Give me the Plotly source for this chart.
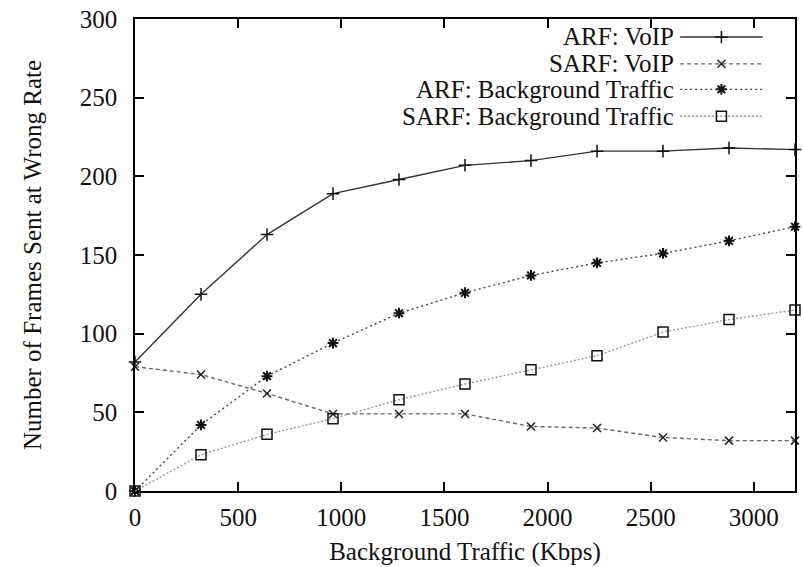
import plotly.graph_objects as go

x_kbps = [0, 320, 640, 960, 1280, 1600, 1920, 2240, 2560, 2880, 3200]
arf_voip = [82, 125, 163, 189, 198, 207, 210, 216, 216, 218, 217]
sarf_voip = [79, 74, 62, 49, 49, 49, 41, 40, 34, 32, 32]
arf_bg = [0, 42, 73, 94, 113, 126, 137, 145, 151, 159, 168]
sarf_bg = [0, 23, 36, 46, 58, 68, 77, 86, 101, 109, 115]

names = ["ARF: VoIP", "SARF: VoIP", "ARF: Background Traffic", "SARF: Background Traffic"]
series = [arf_voip, sarf_voip, arf_bg, sarf_bg]
styles = [
    dict(line=dict(color="#333333", width=1.4, dash="solid"),
         marker=dict(symbol="cross-thin-open", size=9, color="#111111", line=dict(width=1.5, color="#111111"))),
    dict(line=dict(color="#666666", width=1.4, dash="4px,3px"),
         marker=dict(symbol="x-thin-open", size=8, color="#222222", line=dict(width=1.5, color="#222222"))),
    dict(line=dict(color="#444444", width=1.4, dash="2px,3px"),
         marker=dict(symbol="asterisk-open", size=9, color="#111111", line=dict(width=2, color="#111111"))),
    dict(line=dict(color="#999999", width=1.4, dash="2px,2px"),
         marker=dict(symbol="square-open", size=10, color="#111111", line=dict(width=1.5, color="#111111"))),
]

FONT = "Liberation Serif, Times New Roman, serif"
FS = 25

fig = go.Figure()
for name, ys, st in zip(names, series, styles):
    fig.add_trace(go.Scatter(x=x_kbps, y=ys, mode="lines+markers", name=name,
                             showlegend=False, cliponaxis=False, **st))

# legend samples (gnuplot style: text on the left, sample on the right)
legend_y = [0.962, 0.905, 0.851, 0.794]
for name, ly, st in zip(names, legend_y, styles):
    fig.add_trace(go.Scatter(x=[0.826, 0.951], y=[ly, ly], mode="lines", line=st["line"],
                             xaxis="x2", yaxis="y2", showlegend=False, hoverinfo="skip"))
    fig.add_trace(go.Scatter(x=[0.8885], y=[ly], mode="markers", marker=st["marker"],
                             xaxis="x2", yaxis="y2", showlegend=False, hoverinfo="skip"))
    fig.add_annotation(x=0.819, y=ly, xref="paper", yref="paper", text=name,
                       xanchor="right", yanchor="middle", showarrow=False,
                       font=dict(family=FONT, size=FS, color="#111111"))

axis_common = dict(showline=True, linecolor="black", linewidth=1.5, mirror="ticks",
                   ticks="inside", ticklen=9, tickwidth=1.5, tickcolor="black",
                   showgrid=False, zeroline=False,
                   tickfont=dict(family=FONT, size=FS, color="#111111"))

fig.update_layout(
    width=803, height=567,
    margin=dict(l=135, r=6, t=15, b=75),
    paper_bgcolor="white", plot_bgcolor="white",
    xaxis=dict(range=[0, 3200], tickvals=[0, 500, 1000, 1500, 2000, 2500, 3000],
               ticklabelstandoff=3,
               title=dict(text="Background Traffic (Kbps)", standoff=13,
                          font=dict(family=FONT, size=FS, color="#111111")),
               **axis_common),
    yaxis=dict(range=[0, 300], tickvals=[0, 50, 100, 150, 200, 250, 300],
               ticklabelstandoff=11,
               title=dict(text="Number of Frames Sent at Wrong Rate", standoff=31,
                          font=dict(family=FONT, size=FS, color="#111111")),
               **axis_common),
    xaxis2=dict(overlaying="x", range=[0, 1], visible=False),
    yaxis2=dict(overlaying="y", range=[0, 1], visible=False),
)

fig.write_html("out.html")
